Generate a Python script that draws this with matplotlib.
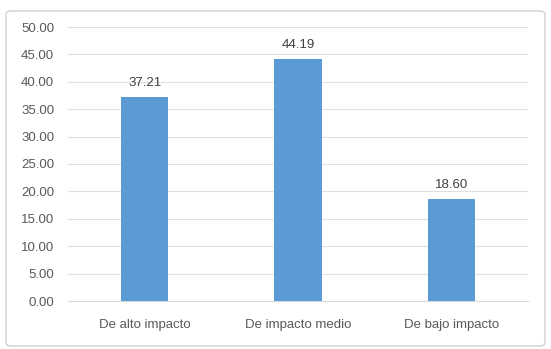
import matplotlib.pyplot as plt
from matplotlib.patches import FancyBboxPatch

categories = ['De alto impacto', 'De impacto medio', 'De bajo impacto']
values = [37.21, 44.19, 18.60]
y_ticks = [0, 5, 10, 15, 20, 25, 30, 35, 40, 45, 50]

plt.rcParams['font.family'] = ['Liberation Sans Narrow', 'Liberation Sans', 'DejaVu Sans']

fig = plt.figure(figsize=(5.51, 3.49), dpi=100)
ax = fig.add_axes([68 / 551, 48 / 349, 460 / 551, 274 / 349])

# marco del gráfico
frame = FancyBboxPatch((6 / 551, 3 / 349), 539 / 551, 335 / 349,
                       boxstyle='round,pad=0,rounding_size=0.01',
                       transform=fig.transFigure, facecolor='none',
                       edgecolor='#d0d0d0', linewidth=1.0)
fig.patches.append(frame)

x = range(len(categories))
ax.bar(x, values, width=0.31, color='#5b9bd5', zorder=3)
for xi, v in zip(x, values):
    ax.text(xi, v + 1.4, f'{v:.2f}', ha='center', va='bottom',
            fontsize=9.5, color='#404040')

ax.set_xlim(-0.5, 2.5)
ax.set_ylim(0, 50)
ax.set_yticks(y_ticks)
ax.set_yticklabels([f'{t:.2f}' for t in y_ticks])
ax.set_xticks(list(x))
ax.set_xticklabels(categories)
ax.tick_params(axis='both', length=0, labelsize=9.5, colors='#595959')
ax.tick_params(axis='y', pad=10)
ax.tick_params(axis='x', pad=13)
ax.grid(axis='y', color='#e0e0e0', linewidth=0.8, zorder=0)
for side in ['top', 'right', 'left']:
    ax.spines[side].set_visible(False)
ax.spines['bottom'].set_color('#d9d9d9')

fig.savefig('out.png', dpi=100)
